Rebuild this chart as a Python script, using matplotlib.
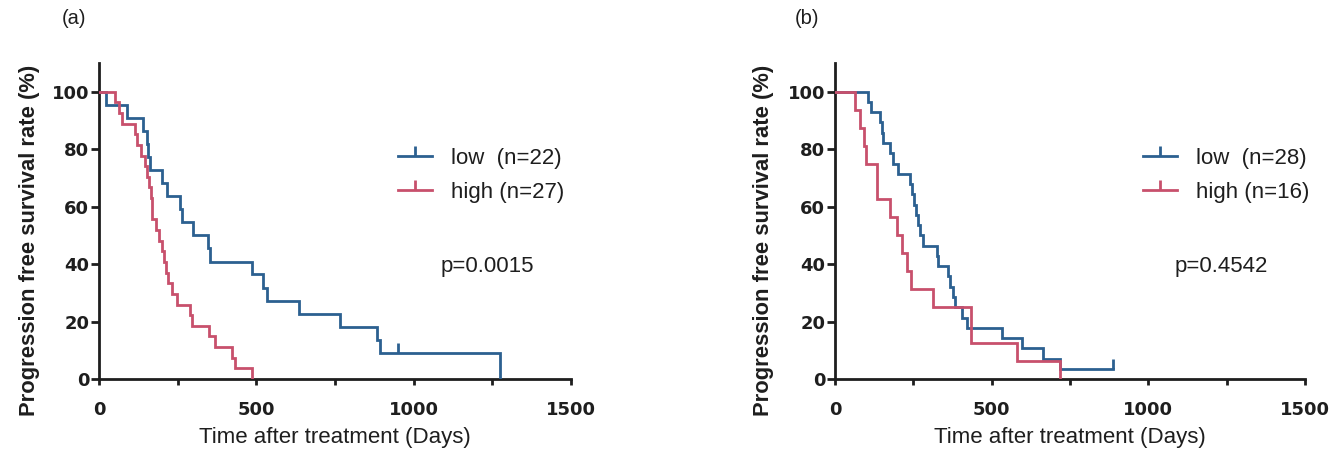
import matplotlib
matplotlib.use("Agg")
import matplotlib.pyplot as plt
from matplotlib.lines import Line2D
from matplotlib.ticker import MultipleLocator

plt.rcParams['font.family'] = ['Liberation Sans', 'DejaVu Sans']

# ---------------- data ----------------
# Panel (a)
a_low_t = [0, 22, 90, 141, 152, 157, 162, 199, 215, 258, 265, 300, 346, 353,
           485, 522, 533, 636, 766, 883, 894, 1275]
a_low_s = [100, 95.5, 90.9, 86.4, 81.8, 77.3, 72.7, 68.2, 63.6, 59.1, 54.5, 50.0,
           45.5, 40.9, 36.4, 31.8, 27.3, 22.7, 18.2, 13.6, 9.1, 0]
a_low_cens_t = [949]
a_low_cens_s = [9.1]

a_high_t = [0, 51, 62, 72, 114, 122, 132, 145, 152, 158, 165, 168, 170, 180, 192,
            200, 207, 213, 218, 232, 248, 290, 296, 350, 370, 422, 432, 485]
a_high_s = [100, 96.3, 92.6, 88.9, 85.2, 81.5, 77.8, 74.1, 70.4, 66.7, 63.0, 59.3,
            55.6, 51.9, 48.1, 44.4, 40.7, 37.0, 33.3, 29.6, 25.9, 22.2, 18.5, 14.8,
            11.1, 7.4, 3.7, 0]

# Panel (b)
b_low_t = [0, 104, 114, 144, 149, 154, 176, 186, 202, 239, 245, 252, 258, 265, 272,
           280, 325, 330, 362, 368, 375, 383, 404, 420, 532, 596, 665, 718, 886]
b_low_s = [100, 96.4, 92.9, 89.3, 85.7, 82.1, 78.6, 75.0, 71.4, 67.9, 64.3, 60.7,
           57.1, 53.6, 50.0, 46.4, 42.9, 39.3, 35.7, 32.1, 28.6, 25.0, 21.4, 17.9,
           14.3, 10.7, 7.1, 3.6, 3.6]
b_low_cens_t = [886]
b_low_cens_s = [3.6]

b_high_t = [0, 64, 80, 91, 100, 133, 176, 197, 213, 229, 243, 312, 433, 580, 718]
b_high_s = [100, 93.75, 87.5, 81.25, 75.0, 62.5, 56.25, 50.0, 43.75, 37.5, 31.25,
            25.0, 12.5, 6.25, 0]

panel_labels = ["(a)", "(b)"]
legend_labels = [["low  (n=22)", "high (n=27)"], ["low  (n=28)", "high (n=16)"]]
p_values = ["p=0.0015", "p=0.4542"]
x_ticks = [0, 500, 1000, 1500]
y_ticks = [0, 20, 40, 60, 80, 100]
x_label = "Time after treatment (Days)"
y_label = "Progression free survival rate (%)"

BLUE = "#2c6090"
RED = "#c8506c"
INK = "#1e1e1e"

fig = plt.figure(figsize=(13.4, 4.53), dpi=100)
W, H = 1340, 453

def make_ax(x0px, x1px):
    y0px, y1px = 379, 63
    return fig.add_axes([x0px / W, (H - y0px) / H, (x1px - x0px) / W, (y0px - y1px) / H])

axes = [make_ax(99, 571), make_ax(835, 1305)]
legend_x = [0.633, 0.655]
ylabel_x = [-0.126, -0.13]
curves = [
    [(a_low_t, a_low_s, a_low_cens_t, a_low_cens_s, BLUE), (a_high_t, a_high_s, [], [], RED)],
    [(b_low_t, b_low_s, b_low_cens_t, b_low_cens_s, BLUE), (b_high_t, b_high_s, [], [], RED)],
]

for i, ax in enumerate(axes):
    for t, s, ct, cs, col in curves[i]:
        ax.step(t, s, where='post', color=col, lw=2.0, solid_joinstyle='miter', zorder=3)
        if ct:
            ax.plot(ct, cs, linestyle='none', marker=2, markersize=7, mew=2.0, color=col, zorder=3)
    ax.set_xlim(0, 1500)
    ax.set_ylim(0, 110)
    for sp in ['top', 'right']:
        ax.spines[sp].set_visible(False)
    for sp in ['left', 'bottom']:
        ax.spines[sp].set_linewidth(2.0)
        ax.spines[sp].set_color(INK)
    ax.set_xticks(x_ticks)
    ax.xaxis.set_minor_locator(MultipleLocator(250))
    ax.set_yticks(y_ticks)
    ax.tick_params(axis='x', which='both', direction='out', length=4.5, width=2.0,
                   color=INK, labelcolor=INK, pad=11)
    ax.tick_params(axis='y', which='both', direction='out', length=6, width=2.0,
                   color=INK, labelcolor=INK, pad=1)
    for lab in ax.get_xticklabels() + ax.get_yticklabels():
        lab.set_fontweight('bold')
        lab.set_fontsize(13)
        lab.set_fontfamily('DejaVu Sans')
    ax.set_xlabel(x_label, fontsize=16, color=INK, labelpad=6)
    ax.set_ylabel(y_label, fontsize=15.8, fontweight='bold', color=INK)
    ax.yaxis.set_label_coords(ylabel_x[i], 0.44)
    ax.set_facecolor('none')

    h1 = Line2D([], [], color=BLUE, lw=2.0, marker=2, markersize=7, mew=2.0)
    h2 = Line2D([], [], color=RED, lw=2.0, marker=2, markersize=7, mew=2.0)
    leg = ax.legend([h1, h2], legend_labels[i], loc='center left',
                    bbox_to_anchor=(legend_x[i], 0.645), frameon=False, fontsize=16,
                    handlelength=1.55, handletextpad=0.85, labelspacing=0.6,
                    borderpad=0, borderaxespad=0, numpoints=1)
    for txt in leg.get_texts():
        txt.set_color(INK)

    ax.text(1084, 39, p_values[i], fontsize=16, color=INK, va='center', ha='left')

fig.text(62 / W, 1 - 18 / H, panel_labels[0], fontsize=14.5, color=INK, va='center', ha='left')
fig.text(795 / W, 1 - 18 / H, panel_labels[1], fontsize=14.5, color=INK, va='center', ha='left')

fig.savefig("out.png", dpi=100, facecolor='white')
